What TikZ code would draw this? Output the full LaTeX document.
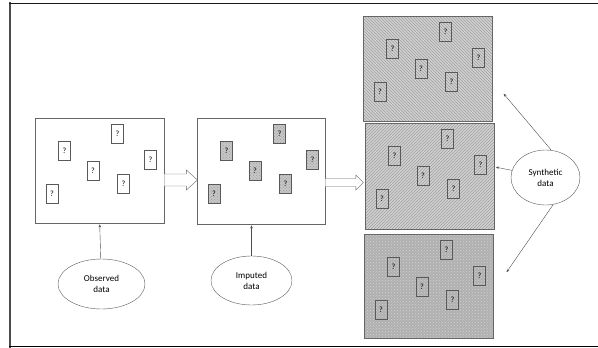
\documentclass[tikz,border=0pt]{standalone}
\usepackage{fontspec}
\setmainfont{Carlito}
\usetikzlibrary{patterns,shapes.geometric,arrows.meta}

\tikzset{
  panel/.style={draw=gray!80!black, minimum width=129pt, minimum height=105pt,
    inner sep=0pt, anchor=north west},
  qbox/.style={draw=gray!70!black, minimum width=12pt, minimum height=19pt,
    inner sep=0pt, font=\fontsize{8}{9}\selectfont},
  tag/.style={ellipse, draw=gray!70!black, align=center, inner sep=0pt,
    font=\fontsize{9}{11}\selectfont},
  pointer/.style={-{Stealth[length=3pt,width=2.5pt]}, draw=gray!60!black, shorten >=1pt},
  blockline/.style={draw=gray!80!black, fill=white, line join=miter}
}

% six question marks placed inside a panel
\newcommand\qmarks[2]{%
  \foreach \dx/\dy [count=\i] in {82.5/16, 29.5/33, 58/53, 115.5/42, 88.5/66, 17/76}
    \node[qbox,#2] (#1q\i) at ([shift={(\dx,\dy)}]#1.north west) {?};
}

\begin{document}
\begin{tikzpicture}[x=1pt, y=-1pt]
  \useasboundingbox (0,0) rectangle (598,348);

  % frame
  \draw[gray!60!black, line width=2.5pt] (10,2) -- (10,348);
  \draw[gray!20!black, line width=1.6pt] (9,3.5) -- (598,3.5);
  \draw[black, line width=1.6pt] (9,346.5) -- (598,346.5);

  % observed and imputed data
  \node[panel] (obs) at (35,118) {};
  \qmarks{obs}{fill=white}
  \node[panel, minimum width=128pt, minimum height=106pt] (imp) at (197,118) {};
  \qmarks{imp}{preaction={fill=gray!45}, pattern=crosshatch dots, pattern color=gray!75}

  % synthetic data sets
  \node[panel, preaction={fill=gray!35}, pattern=north west lines, pattern color=gray!75] (synA) at (363,16) {};
  \qmarks{synA}{}
  \node[panel, minimum height=106pt, preaction={fill=gray!35}, pattern=north east lines, pattern color=gray!75] (synB) at (365,123) {};
  \qmarks{synB}{}
  \node[panel, minimum height=104pt, preaction={fill=gray!62}, pattern=crosshatch dots, pattern color=gray!35] (synC) at (364,234) {};
  \qmarks{synC}{}

  % block arrows
  \draw[blockline] (obs.east |- 0,174) -- ++(22,0) -- ++(0,-4) -- ++(11,10) -- ++(-11,10)
    -- ++(0,-4) -- (obs.east |- 0,186);
  \draw[blockline] (imp.east |- 0,178.5) -- ++(30.5,0) -- ++(0,-3.5) -- ++(7.5,7.5) -- ++(-7.5,7.5)
    -- ++(0,-3.5) -- (imp.east |- 0,186.5);

  % labels
  \node[tag, minimum width=87pt, minimum height=50pt] (obsTag) at (101.5,284) {Observed\\data};
  \node[tag, minimum width=81pt, minimum height=49pt] (impTag) at (251.5,280.5) {Imputed\\data};
  \node[tag, minimum width=69pt, minimum height=55pt] (synTag) at (545.5,177.5) {Synthetic\\data};

  \coordinate (tipA) at (503,93);
  \coordinate (tipB) at (495,167);
  \coordinate (tipC) at (506,273);

  \draw[pointer] (obsTag) -- (obs.south);
  \draw[pointer] (impTag.north) -- (impTag.north |- imp.south);
  \draw[pointer] (synTag.78) -- (tipA);
  \draw[pointer] (synTag.168) -- (tipB);
  \draw[pointer] (synTag.-74) -- (tipC);
\end{tikzpicture}
\end{document}
